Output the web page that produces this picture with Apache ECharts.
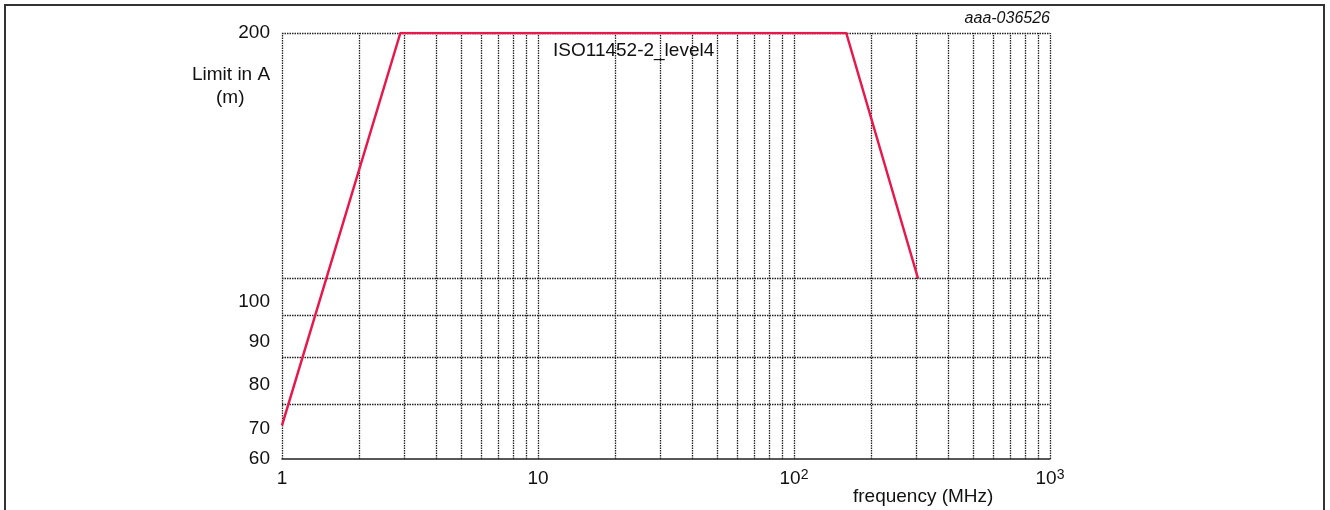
<!DOCTYPE html>
<html>
<head>
<meta charset="utf-8">
<title>ISO11452-2 level4</title>
<script src="https://cdn.jsdelivr.net/npm/echarts@6/dist/echarts.min.js"></script>
<style>
  html, body { margin: 0; padding: 0; background: #fff; overflow: hidden; }
  #frame { position: absolute; left: 4px; top: 4px; width: 1321px; height: 560px; border: 2px solid #333; box-sizing: border-box; }
  #chart { position: absolute; left: 0; top: 0; width: 1330px; height: 510px; }
</style>
</head>
<body>
<div id="frame"></div>
<div id="chart"></div>
<script>
// limit curve
const freqMHz = [1, 2.9, 160, 305]
const limitMA = [66, 200, 200, 100]

// grid lines and tick labels
const xGridValues = [1, 2, 3, 4, 5, 6, 7, 8, 9, 10, 20, 30, 40, 50, 60, 70, 80, 90, 100, 200, 300, 400, 500, 600, 700, 800, 900, 1000]
const yGridValues = [70, 80, 90, 100, 200]
const yLabelValues = [60, 70, 80, 90, 100, 200]
const xLabelText = { 1: '{n|1}', 10: '{n|10}', 100: '{n|10}{sup|2}', 1000: '{n|10}{sup|3}' }

const FONT = '"Liberation Sans", Arial, sans-serif'
const TXT = '#111'
const chart = echarts.init(document.getElementById('chart'))

const gridLines = []
xGridValues.forEach(v => gridLines.push({ xAxis: v }))
yGridValues.forEach(v => gridLines.push({ yAxis: v }))

// labels of the inner y ticks sit a little under their grid line in the original
const lowLabel = (pad) => ({ fontSize: 19, color: TXT, fontFamily: FONT, padding: [pad, 0, 0, 0] })

chart.setOption({
  animation: false,
  textStyle: { fontFamily: FONT },
  title: [
    { text: 'ISO11452-2_level4', left: 553, top: 41, padding: 0,
      textStyle: { fontSize: 19, fontWeight: 'normal', color: TXT, fontFamily: FONT } },
    { text: 'aaa-036526', right: 280, top: 11, padding: 0,
      textStyle: { fontSize: 16, fontStyle: 'italic', fontWeight: 'normal', color: TXT, fontFamily: FONT } },
    { text: 'Limit in A', left: 192, top: 65, padding: 0,
      textStyle: { fontSize: 19, fontWeight: 'normal', color: TXT, fontFamily: FONT } },
    { text: '(m)', left: 216, top: 88, padding: 0,
      textStyle: { fontSize: 19, fontWeight: 'normal', color: TXT, fontFamily: FONT } },
    { text: 'frequency (MHz)', left: 853, top: 487, padding: 0,
      textStyle: { fontSize: 19, fontWeight: 'normal', color: TXT, fontFamily: FONT } }
  ],
  grid: { left: 282, right: 280, top: 33, bottom: 51, containLabel: false },
  xAxis: {
    type: 'log',
    logBase: 10,
    min: 1,
    max: 1000,
    axisLine: { show: true, lineStyle: { color: '#222', width: 1.5 } },
    axisTick: { show: false },
    splitLine: { show: false },
    axisLabel: {
      margin: 9,
      color: TXT,
      fontFamily: FONT,
      formatter: v => xLabelText[Math.round(v)] || '',
      rich: {
        n: { fontSize: 19, lineHeight: 22, color: TXT, fontFamily: FONT },
        sup: { fontSize: 14, lineHeight: 14, verticalAlign: 'top', color: TXT, fontFamily: FONT }
      }
    }
  },
  yAxis: {
    type: 'log',
    logBase: 10,
    min: 60,
    max: 200,
    axisLine: { show: false },
    axisTick: { show: false },
    splitLine: { show: false },
    axisLabel: {
      customValues: yLabelValues,
      margin: 12,
      fontSize: 19,
      color: TXT,
      fontFamily: FONT,
      formatter: v => {
        const n = Math.round(v)
        if (n === 60 || n === 200) return String(n)
        return '{l' + n + '|' + n + '}'
      },
      rich: {
        l70: lowLabel(48),
        l80: lowLabel(56),
        l90: lowLabel(52),
        l100: lowLabel(48)
      }
    }
  },
  series: [
    {
      name: 'grid',
      type: 'line',
      data: [],
      z: 1,
      markLine: {
        silent: true,
        symbol: ['none', 'none'],
        label: { show: false },
        lineStyle: { color: '#222', width: 1.3, type: [1.5, 1], opacity: 1 },
        data: gridLines
      }
    },
    {
      name: 'ISO11452-2_level4',
      type: 'line',
      z: 5,
      symbol: 'none',
      lineStyle: { color: '#e8174c', width: 2.5 },
      data: freqMHz.map((f, i) => [f, limitMA[i]])
    }
  ]
})
</script>
</body>
</html>
